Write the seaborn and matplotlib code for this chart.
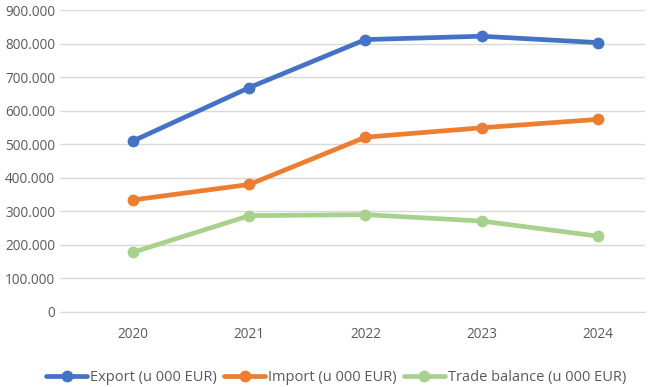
import numpy as np
import pandas as pd
import matplotlib
matplotlib.use("Agg")
import matplotlib.pyplot as plt
from matplotlib.ticker import FuncFormatter
import seaborn as sns

years = ["2020", "2021", "2022", "2023", "2024"]
export_vals = [510000, 669000, 812000, 822000, 803000]
import_vals = [334000, 380000, 521000, 549000, 574000]
balance_vals = [178000, 287000, 290000, 271000, 226000]

series_names = ["Export (u 000 EUR)", "Import (u 000 EUR)", "Trade balance (u 000 EUR)"]
colors = ["#4472C4", "#ED7D31", "#A9D18E"]

df = pd.DataFrame({
    "year": years * 3,
    "value": export_vals + import_vals + balance_vals,
    "series": np.repeat(series_names, len(years)),
})
df["x"] = df["year"].map({y: i for i, y in enumerate(years)})

sns.set_style("white")
plt.rcParams["font.family"] = ["Open Sans", "DejaVu Sans"]

fig = plt.figure(figsize=(6.68, 3.87), dpi=100)
ax = fig.add_axes([0.09, 0.194, 0.876, 0.78])

sns.lineplot(data=df, x="x", y="value", hue="series", palette=colors,
             marker="o", markersize=8.5, markeredgewidth=0, linewidth=3.4,
             ax=ax, legend=True)

ax.set_ylim(0, 900000)
ax.set_yticks(np.arange(0, 900001, 100000))
ax.yaxis.set_major_formatter(FuncFormatter(lambda v, p: f"{int(v):,}".replace(",", ".")))
ax.set_xlim(-0.63, 4.41)
ax.set_xticks(range(len(years)))
ax.set_xticklabels(years)
ax.grid(axis="y", color="#D9D9D9", linewidth=1)
ax.set_axisbelow(True)
for s in ["top", "right", "left"]:
    ax.spines[s].set_visible(False)
ax.spines["bottom"].set_color("#D9D9D9")
ax.tick_params(axis="both", length=0, labelsize=9.8, colors="#595959")
ax.tick_params(axis="x", pad=11)
ax.set_xlabel("")
ax.set_ylabel("")

handles, labels = ax.get_legend_handles_labels()
ax.legend(handles, labels, loc="lower center", bbox_to_anchor=(0.472, -0.285),
          ncol=3, frameon=False, fontsize=10.5, labelcolor="#595959",
          handlelength=2.8, columnspacing=0.5, handletextpad=0.2)

fig.savefig("out.png", dpi=100)
